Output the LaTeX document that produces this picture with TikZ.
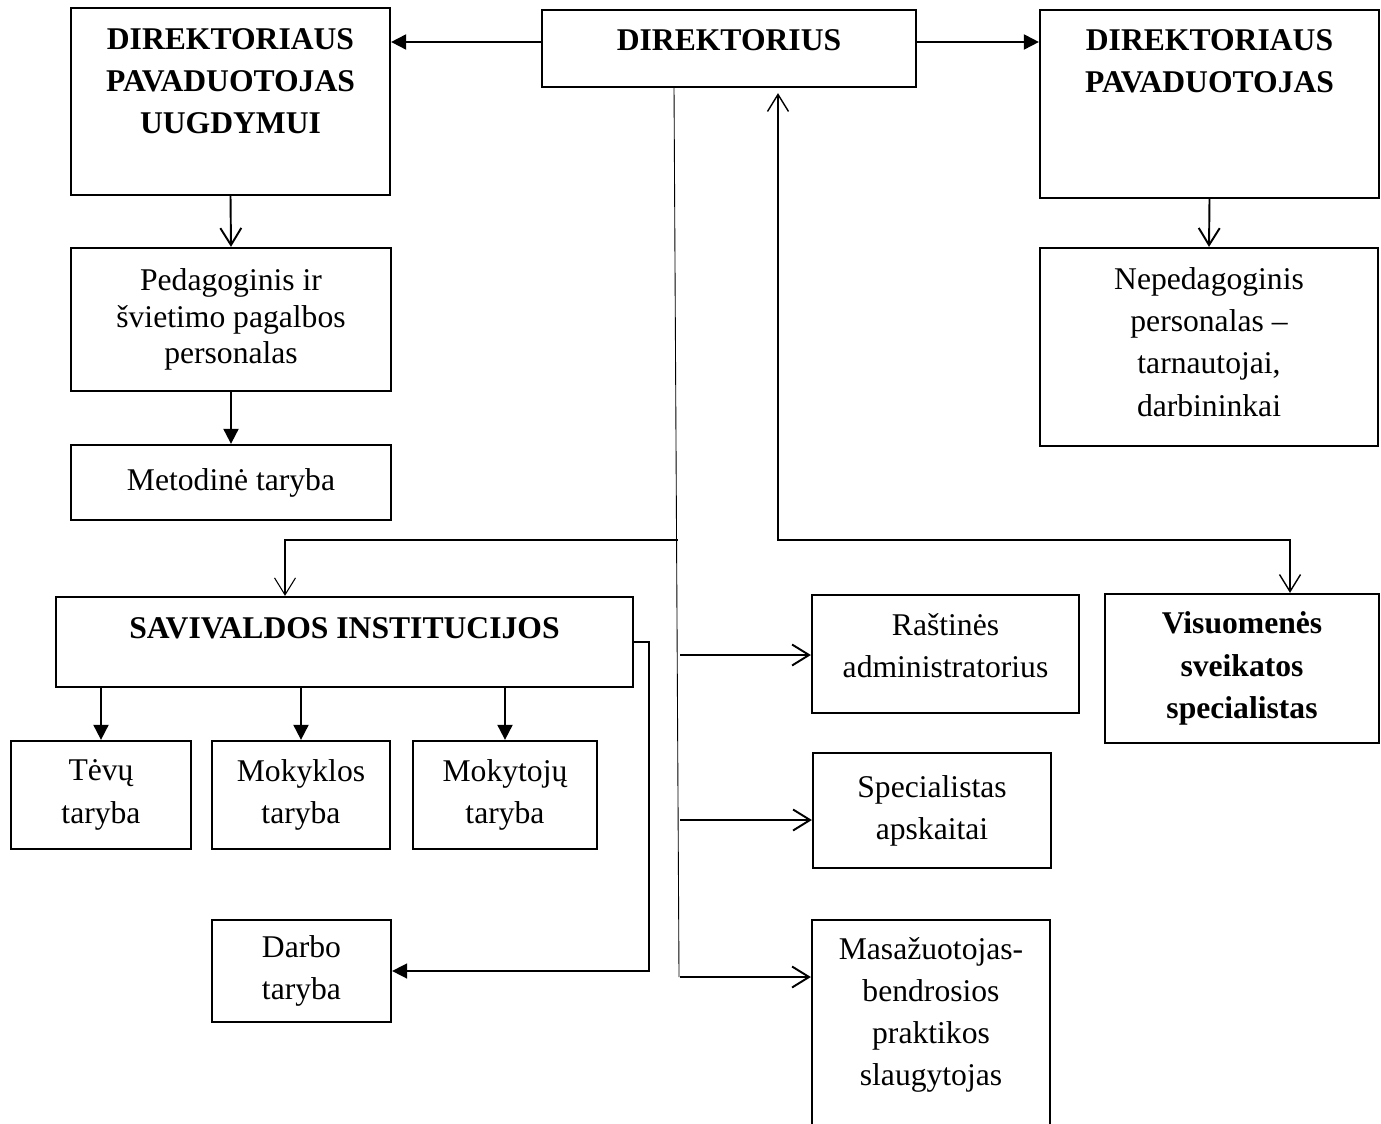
\documentclass[tikz,border=0pt]{standalone}
\usepackage{fontspec}
\setmainfont{Liberation Serif}
\usetikzlibrary{arrows.meta}

\begin{document}
\begin{tikzpicture}[x=0.02cm, y=-0.02cm,
    opentip/.tip={Straight Barb[length=0.34cm, width=0.42cm]},
    fulltip/.tip={Triangle[length=0.3cm, width=0.3cm]},
    box/.style={draw, line width=1.3pt, align=center, inner sep=0pt, font=\fontsize{18}{24}\selectfont},
    boldbox/.style={box, font=\fontsize{18}{24}\selectfont\bfseries},
    boldtext/.style={align=center, inner sep=0pt, font=\fontsize{18}{24}\selectfont\bfseries},
    plaintext/.style={align=center, inner sep=0pt, font=\fontsize{18}{24}\selectfont},
    fullarrow/.style={line width=1.1pt, -fulltip},
    openarrow/.style={line width=1.1pt, -opentip},
    thinline/.style={line width=0.5pt}]

    % Fix the page size
    \useasboundingbox (0,0) rectangle (1381,1124);

    % Draw the top row
    \node[box, minimum width=6.38cm, minimum height=3.74cm] (vadU) at (230.5,101.5) {};
    \node[boldtext] (vadUT) at (230.5,81) {DIREKTORIAUS\\PAVADUOTOJAS\\UUGDYMUI};
    \node[box, minimum width=7.48cm, minimum height=1.54cm] (dir) at (729,48.5) {};
    \node[boldtext] (dirT) at (729,40) {DIREKTORIUS};
    \node[box, minimum width=6.78cm, minimum height=3.76cm] (vad) at (1209.5,104) {};
    \node[boldtext] (vadT) at (1209.5,61.5) {DIREKTORIAUS\\PAVADUOTOJAS};

    % Draw the staff boxes
    \node[box, minimum width=6.4cm, minimum height=2.86cm, font=\fontsize{18}{21}\selectfont] (ped) at (231,319.5) {Pedagoginis ir\\švietimo pagalbos\\personalas};
    \node[box, minimum width=6.4cm, minimum height=1.5cm] (met) at (231,482.5) {Metodinė taryba};
    \node[box, minimum width=6.76cm, minimum height=3.96cm] (neped) at (1209,347) {};
    \node[plaintext] (nepedT) at (1209,342) {Nepedagoginis\\personalas –\\tarnautojai,\\darbininkai};

    % Draw the self-government boxes
    \node[box, minimum width=11.54cm, minimum height=1.8cm] (sav) at (344.5,642) {};
    \node[boldtext] (savT) at (344.5,628) {SAVIVALDOS INSTITUCIJOS};
    \node[box, minimum width=3.6cm, minimum height=2.16cm] (tev) at (101,795) {Tėvų\\taryba};
    \node[box, minimum width=3.56cm, minimum height=2.16cm] (mokl) at (301,795) {Mokyklos\\taryba};
    \node[box, minimum width=3.68cm, minimum height=2.16cm] (mokt) at (505,795) {Mokytojų\\taryba};
    \node[box, minimum width=3.58cm, minimum height=2.04cm] (darb) at (301.5,971) {Darbo\\taryba};

    % Draw the specialist boxes
    \node[box, minimum width=5.34cm, minimum height=2.36cm] (rast) at (945.5,654) {};
    \node[plaintext] (rastT) at (945.5,646) {Raštinės\\administratorius};
    \node[boldbox, minimum width=5.48cm, minimum height=2.98cm] (vis) at (1242,668.5) {Visuomenės\\sveikatos\\specialistas};
    \node[box, minimum width=4.76cm, minimum height=2.3cm] (spec) at (932,810.5) {Specialistas\\apskaitai};
    \node[box, minimum width=4.76cm, minimum height=4.3cm] (mas) at (931,1027.5) {};
    \node[plaintext] (masT) at (931,1015) {Masažuotojas-\\bendrosios\\praktikos\\slaugytojas};

    % Arrows from the director to the deputies
    \coordinate (dL) at ([yshift=0.13cm]dir.west);
    \coordinate (dR) at ([yshift=0.13cm]dir.east);
    \draw[fullarrow] (dL) -- (dL -| vadU.east);
    \draw[fullarrow] (dR) -- (dR -| vad.west);

    % Arrows down the side columns
    \draw[openarrow] (vadU.south) -- (ped.north);
    \draw[fullarrow] (ped.south) -- (met.north);
    \draw[openarrow] (vad.south) -- (neped.north);

    % Draw the trunk line
    \coordinate (trTop) at ([xshift=-1.1cm]dir.south);
    \coordinate (trBot) at (679,977);
    \draw[thinline] (trTop) -- (trBot);
    \coordinate (brS) at (678,540);
    \draw[openarrow, line width=0.6pt] (brS) -| ([xshift=-1.19cm]sav.north);
    \foreach \b/\y in {rast/655, spec/820, mas/977} {
        \coordinate (t) at (680,\y);
        \draw[openarrow] (t) -- (t -| \b.west);
    }

    % Two-way link to the health specialist
    \coordinate (dk) at (1290,540);
    \draw[line width=0.8pt, opentip-opentip] ([xshift=0.98cm, yshift=-0.1cm]dir.south) |- (dk) -- (dk |- vis.north);

    % Arrows from the self-government institutions
    \foreach \b in {tev,mokl,mokt}
        \draw[fullarrow] (sav.south -| \b.north) -- (\b.north);
    \draw[fullarrow, line width=0.9pt] (sav.east) -- ++(15,0) |- (darb.east);

\end{tikzpicture}
\end{document}
